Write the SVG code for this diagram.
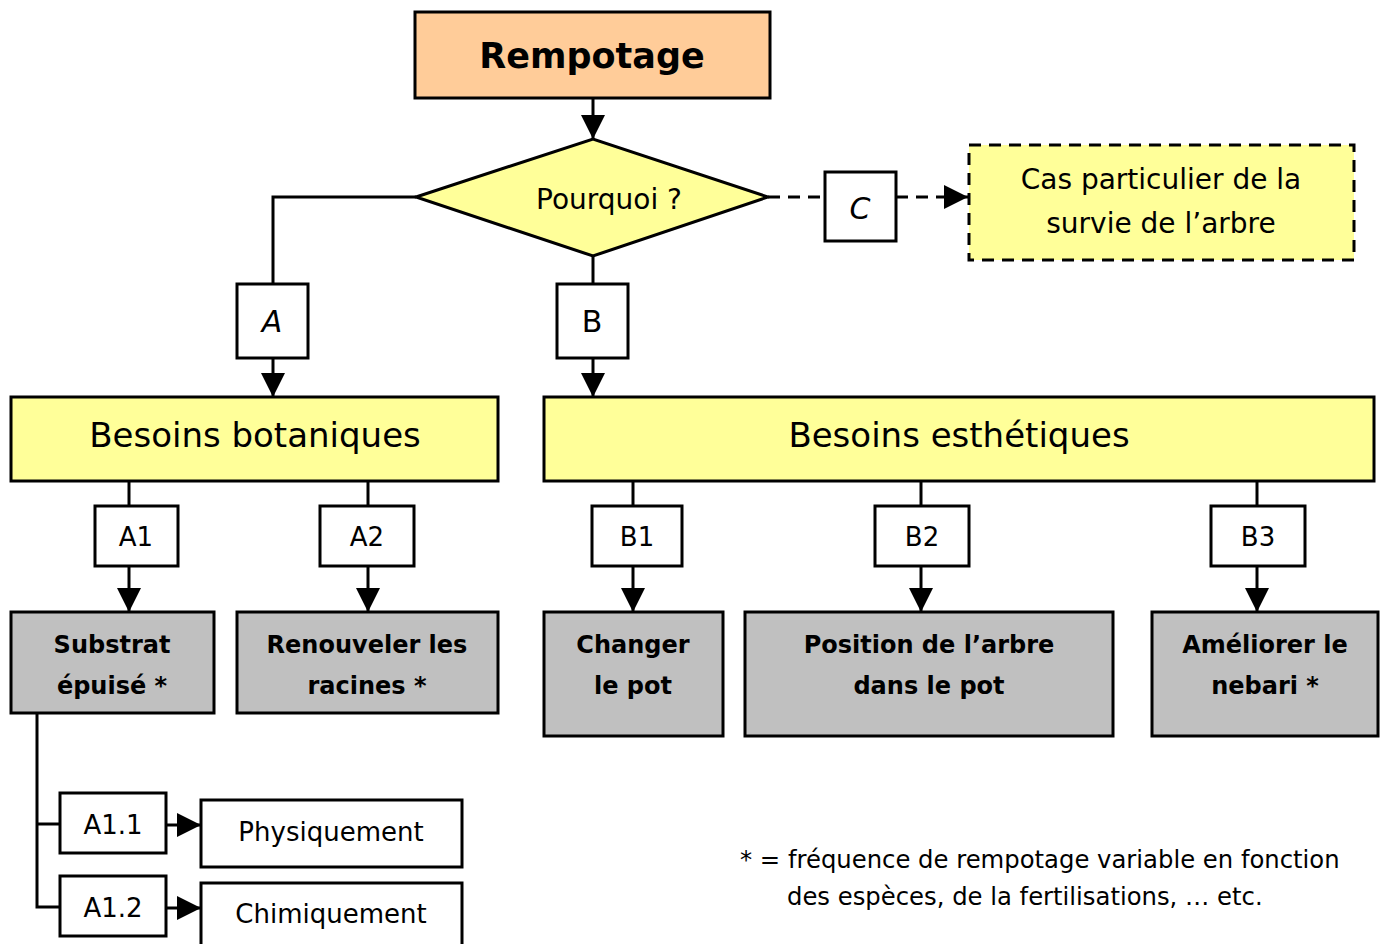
<svg xmlns="http://www.w3.org/2000/svg" width="1386" height="944" viewBox="0 0 1386 944">
<defs>
<marker id="arr" markerUnits="userSpaceOnUse" markerWidth="26" markerHeight="26" refX="24" refY="13" orient="auto">
<path d="M0,1 L24,13 L0,25 Z" fill="#000"/>
</marker>
<style>
.box{stroke:#000;stroke-width:3}
.lbl{fill:#fff}
.yel{fill:#FFFF99}
.gray{fill:#C0C0C0}
.t{font-family:"DejaVu Sans","Liberation Sans",sans-serif;fill:#000;text-anchor:middle}
.b{font-size:24px;font-weight:bold}
.c{stroke:#000;stroke-width:3;fill:none}
.d{stroke-dasharray:12,8}
</style>
</defs>
<rect width="1386" height="944" fill="#fff"/>
<g id="connectors">
<line class="c" x1="593" y1="98" x2="593" y2="139" marker-end="url(#arr)"/>
<polyline class="c" points="416,197 273,197 273,284"/>
<line class="c" x1="273" y1="358" x2="273" y2="397" marker-end="url(#arr)"/>
<line class="c" x1="593" y1="256" x2="593" y2="284"/>
<line class="c" x1="593" y1="358" x2="593" y2="397" marker-end="url(#arr)"/>
<line class="c d" x1="768" y1="197" x2="825" y2="197"/>
<line class="c d" x1="896" y1="197" x2="968" y2="197" marker-end="url(#arr)"/>
<line class="c" x1="129" y1="481" x2="129" y2="506"/>
<line class="c" x1="129" y1="566" x2="129" y2="612" marker-end="url(#arr)"/>
<line class="c" x1="368" y1="481" x2="368" y2="506"/>
<line class="c" x1="368" y1="566" x2="368" y2="612" marker-end="url(#arr)"/>
<line class="c" x1="633" y1="481" x2="633" y2="506"/>
<line class="c" x1="633" y1="566" x2="633" y2="612" marker-end="url(#arr)"/>
<line class="c" x1="921" y1="481" x2="921" y2="506"/>
<line class="c" x1="921" y1="566" x2="921" y2="612" marker-end="url(#arr)"/>
<line class="c" x1="1257" y1="481" x2="1257" y2="506"/>
<line class="c" x1="1257" y1="566" x2="1257" y2="612" marker-end="url(#arr)"/>
<polyline class="c" points="37,713 37,907 60,907"/>
<line class="c" x1="37" y1="824" x2="60" y2="824"/>
<line class="c" x1="166" y1="825" x2="201" y2="825" marker-end="url(#arr)"/>
<line class="c" x1="166" y1="908" x2="201" y2="908" marker-end="url(#arr)"/>
</g>
<g id="rempotage">
<rect class="box" x="415" y="12" width="355" height="86" fill="#FFCC99"/>
<text class="t" x="592" y="68" font-size="35" font-weight="bold">Rempotage</text>
</g>
<g id="pourquoi">
<polygon class="box yel" points="416,197 593,139 768,197 593,256"/>
<text class="t" x="609" y="209" font-size="28">Pourquoi ?</text>
</g>
<g id="lblC">
<rect class="box lbl" x="825" y="172" width="71" height="69"/>
<text class="t" x="860" y="219" font-size="30" font-style="italic">C</text>
</g>
<g id="cas">
<rect class="box yel d" x="969" y="145" width="385" height="115"/>
<text class="t" x="1161" y="189" font-size="28">Cas particulier de la</text>
<text class="t" x="1161" y="233" font-size="28">survie de l’arbre</text>
</g>
<g id="lblA">
<rect class="box lbl" x="237" y="284" width="71" height="74"/>
<text class="t" x="272" y="332" font-size="30" font-style="italic">A</text>
</g>
<g id="lblB">
<rect class="box lbl" x="557" y="284" width="71" height="74"/>
<text class="t" x="592" y="332" font-size="30">B</text>
</g>
<g id="botaniques">
<rect class="box yel" x="11" y="397" width="487" height="84"/>
<text class="t" x="255" y="447" font-size="34">Besoins botaniques</text>
</g>
<g id="esthetiques">
<rect class="box yel" x="544" y="397" width="830" height="84"/>
<text class="t" x="959" y="447" font-size="34">Besoins esthétiques</text>
</g>
<g id="lblA1">
<rect class="box lbl" x="95" y="506" width="83" height="60"/>
<text class="t" x="136" y="546" font-size="26">A1</text>
</g>
<g id="lblA2">
<rect class="box lbl" x="320" y="506" width="94" height="60"/>
<text class="t" x="367" y="546" font-size="26">A2</text>
</g>
<g id="lblB1">
<rect class="box lbl" x="592" y="506" width="90" height="60"/>
<text class="t" x="637" y="546" font-size="26">B1</text>
</g>
<g id="lblB2">
<rect class="box lbl" x="875" y="506" width="94" height="60"/>
<text class="t" x="922" y="546" font-size="26">B2</text>
</g>
<g id="lblB3">
<rect class="box lbl" x="1211" y="506" width="94" height="60"/>
<text class="t" x="1258" y="546" font-size="26">B3</text>
</g>
<g id="substrat">
<rect class="box gray" x="11" y="612" width="203" height="101"/>
<text class="t b" x="112" y="653">Substrat</text>
<text class="t b" x="112" y="694">épuisé *</text>
</g>
<g id="renouveler">
<rect class="box gray" x="237" y="612" width="261" height="101"/>
<text class="t b" x="367" y="653">Renouveler les</text>
<text class="t b" x="367" y="694">racines *</text>
</g>
<g id="changer">
<rect class="box gray" x="544" y="612" width="179" height="124"/>
<text class="t b" x="633" y="653">Changer</text>
<text class="t b" x="633" y="694">le pot</text>
</g>
<g id="position">
<rect class="box gray" x="745" y="612" width="368" height="124"/>
<text class="t b" x="929" y="653">Position de l’arbre</text>
<text class="t b" x="929" y="694">dans le pot</text>
</g>
<g id="ameliorer">
<rect class="box gray" x="1152" y="612" width="226" height="124"/>
<text class="t b" x="1265" y="653">Améliorer le</text>
<text class="t b" x="1265" y="694">nebari *</text>
</g>
<g id="lblA11">
<rect class="box lbl" x="60" y="793" width="106" height="60"/>
<text class="t" x="113" y="834" font-size="26">A1.1</text>
</g>
<g id="lblA12">
<rect class="box lbl" x="60" y="876" width="106" height="60"/>
<text class="t" x="113" y="917" font-size="26">A1.2</text>
</g>
<g id="physiquement">
<rect class="box lbl" x="201" y="800" width="261" height="67"/>
<text class="t" x="331" y="841" font-size="26">Physiquement</text>
</g>
<g id="chimiquement">
<rect class="box lbl" x="201" y="883" width="261" height="70"/>
<text class="t" x="331" y="923" font-size="26">Chimiquement</text>
</g>
<g id="note">
<text x="740" y="868" font-family="DejaVu Sans, sans-serif" font-size="24.3">* = fréquence de rempotage variable en fonction</text>
<text x="787" y="905" font-family="DejaVu Sans, sans-serif" font-size="24.3">des espèces, de la fertilisations, … etc.</text>
</g>
</svg>
